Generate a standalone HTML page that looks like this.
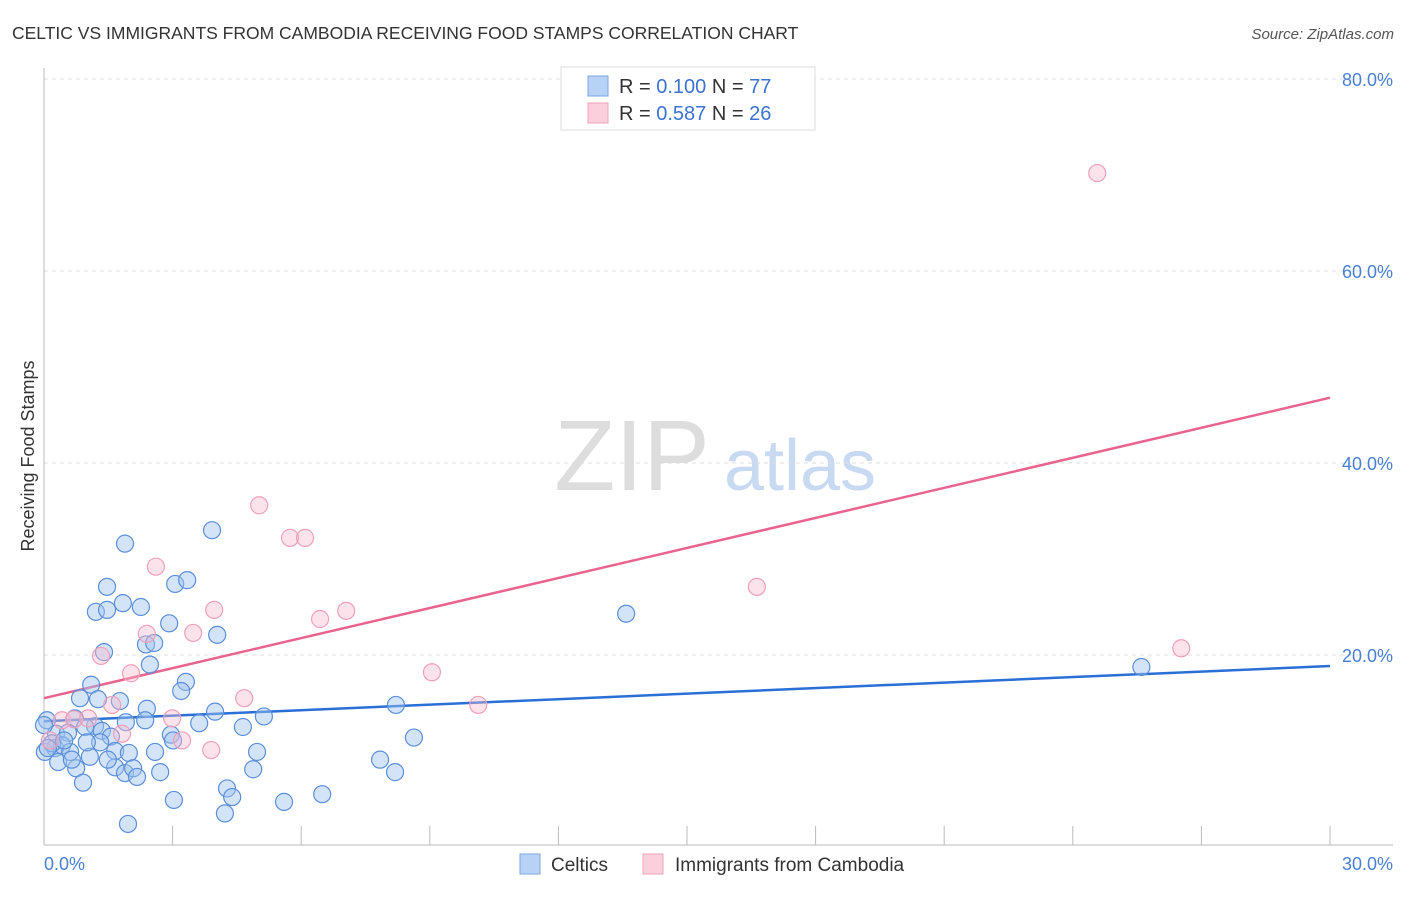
<!DOCTYPE html>
<html><head><meta charset="utf-8"><style>
body{margin:0;background:#fff;font-family:"Liberation Sans",sans-serif;}
svg text{font-family:"Liberation Sans",sans-serif;}
</style></head><body>
<svg id="chart" width="1406" height="892" xmlns="http://www.w3.org/2000/svg">
<text x="12" y="39" font-size="17.5" fill="#333">CELTIC VS IMMIGRANTS FROM CAMBODIA RECEIVING FOOD STAMPS CORRELATION CHART</text>
<text x="1394" y="39" font-size="15" fill="#555" font-style="italic" text-anchor="end">Source: ZipAtlas.com</text>
<text transform="translate(34,456) rotate(-90)" font-size="18" fill="#333" text-anchor="middle">Receiving Food Stamps</text>
<g>
<text x="632" y="490" font-size="100" fill="#ddd" font-family="Liberation Serif,serif" text-anchor="middle">ZIP</text>
<text x="800" y="490" font-size="72" fill="#c8d9f2" text-anchor="middle">atlas</text>
</g>
<g id="grid"></g><g id="axes"></g><g id="trends"></g><g id="pts"></g>
<g>
<rect x="561" y="67" width="254" height="63" fill="#fff" stroke="#ddd"/>
<rect x="588" y="76" width="20" height="20" fill="#b8d2f5" stroke="#7aa6e0"/>
<text x="619" y="93" font-size="20" fill="#333">R = <tspan fill="#3b73d1">0.100</tspan>   N = <tspan fill="#3b73d1">77</tspan></text>
<rect x="588" y="103" width="20" height="20" fill="#fbd0dc" stroke="#eda2b8"/>
<text x="619" y="120" font-size="20" fill="#333">R = <tspan fill="#3b73d1">0.587</tspan>   N = <tspan fill="#3b73d1">26</tspan></text>
</g>
<g>
<rect x="520" y="854" width="20" height="20" fill="#b8d2f5" stroke="#7aa6e0"/>
<text x="551" y="871" font-size="19" fill="#333">Celtics</text>
<rect x="643" y="854" width="20" height="20" fill="#fbd0dc" stroke="#eda2b8"/>
<text x="675" y="871" font-size="19" fill="#333">Immigrants from Cambodia</text>
</g>
</svg>
<script>
const celticsX=[1.89,3.92,1.47,3.06,3.34,1.84,2.26,1.21,1.47,2.92,4.04,2.38,2.57,1.40,2.47,1.10,3.31,3.20,0.84,1.77,1.26,2.40,3.99,5.13,2.36,2.96,3.62,4.64,0.07,0.72,1.19,0.28,0.56,0.96,1.35,1.56,1.91,3.01,0.26,0.42,0.61,0.02,0.33,0.75,0.91,1.07,1.66,1.98,1.31,2.59,4.97,1.66,1.89,2.08,2.17,2.71,4.88,4.27,4.39,3.03,4.22,5.60,6.49,1.96,7.84,8.19,8.21,8.63,13.58,25.6,0.19,0.47,0.65,1.0,1.49,0.0,0.09];
const celticsY=[31.6,33.0,27.1,27.4,27.8,25.4,25.0,24.5,24.7,23.3,22.1,21.1,21.25,20.3,19.0,16.9,17.2,16.25,15.5,15.2,15.4,14.4,14.1,13.6,13.2,11.7,12.9,12.5,13.2,13.4,12.6,11.8,11.9,12.5,12.1,11.5,13.0,11.1,10.3,10.6,9.9,9.9,8.85,8.2,6.7,9.4,10.0,9.8,10.9,9.9,9.9,8.3,7.7,8.2,7.3,7.8,8.1,6.1,5.2,4.9,3.5,4.7,5.5,2.4,9.1,7.8,14.8,11.4,24.3,18.75,10.8,11.1,9.1,10.9,9.1,12.7,10.3];
const cambodiaX=[24.57,5.02,5.74,6.09,2.61,3.97,6.44,7.05,16.63,26.53,3.48,2.40,1.33,2.03,9.05,4.67,10.13,1.59,2.99,3.22,3.90,1.82,0.42,0.70,1.03,0.14];
const cambodiaY=[70.2,35.6,32.2,32.2,29.2,24.7,23.75,24.6,27.1,20.7,22.3,22.2,19.9,18.1,18.2,15.5,14.8,14.8,13.4,11.1,10.1,11.8,13.2,13.3,13.4,11.1];
const celticsTrend=[13.1,18.85];
const cambodiaTrend=[15.5,46.8];
const yTicks=[20,40,60,80];
const yTickLabels=["20.0%","40.0%","60.0%","80.0%"];
const xTicks=[0,3,6,9,12,15,18,21,24,27,30];
const NS="http://www.w3.org/2000/svg";
const X0=44,X1=1330,Y0=847,PPY=9.6;
function sx(v){return X0+(X1-X0)*v/30;}
function sy(v){return Y0-v*PPY;}
function mk(tag,attrs,parent){const e=document.createElementNS(NS,tag);for(const k in attrs)e.setAttribute(k,attrs[k]);parent.appendChild(e);return e;}
const grid=document.getElementById('grid'),axes=document.getElementById('axes'),tr=document.getElementById('trends'),pts=document.getElementById('pts');
yTicks.forEach((t,i)=>{
 const l=mk('line',{x1:44,x2:1393,y1:sy(t),y2:sy(t),stroke:'#ddd','stroke-dasharray':'4,4'},grid);
 
 
 const tx=mk('text',{x:1393,y:sy(t)+7,'font-size':18,fill:'#4a7fd4','text-anchor':'end'},axes);
 tx.textContent=yTickLabels[i];
 
 
});
const ya=mk('line',{x1:44,x2:44,y1:68,y2:845,stroke:'#bbb'},axes);


const xa=mk('line',{x1:44,x2:1393,y1:845,y2:845,stroke:'#bbb'},axes);


xTicks.slice(1).forEach(t=>{
 const l=mk('line',{x1:sx(t),x2:sx(t),y1:826,y2:845,stroke:'#bbb'},axes);
 
 
});
const xl0=mk('text',{x:44,y:870,'font-size':18,fill:'#4a7fd4'},axes);xl0.textContent='0.0%';


const xl1=mk('text',{x:1393,y:870,'font-size':18,fill:'#4a7fd4','text-anchor':'end'},axes);xl1.textContent='30.0%';


function drawPts(xs,ys,fill,stroke,name){xs.forEach((x,i)=>{
 const c=mk('circle',{cx:sx(x),cy:sy(ys[i]),r:8.5,fill:fill,stroke:stroke,'stroke-width':1.2},pts);
 
 
});}
drawPts(celticsX,celticsY,'rgba(160,196,240,0.45)','#5b8fd9','celtics-point');
drawPts(cambodiaX,cambodiaY,'rgba(248,185,205,0.4)','#eea0b8','cambodia-point');
const t1=mk('line',{x1:sx(0),y1:sy(celticsTrend[0]),x2:sx(30),y2:sy(celticsTrend[1]),stroke:'#2a6fd6','stroke-width':2.5},tr);


const t2=mk('line',{x1:sx(0),y1:sy(cambodiaTrend[0]),x2:sx(30),y2:sy(cambodiaTrend[1]),stroke:'#e8648e','stroke-width':2.5},tr);


</script>
</body></html>
